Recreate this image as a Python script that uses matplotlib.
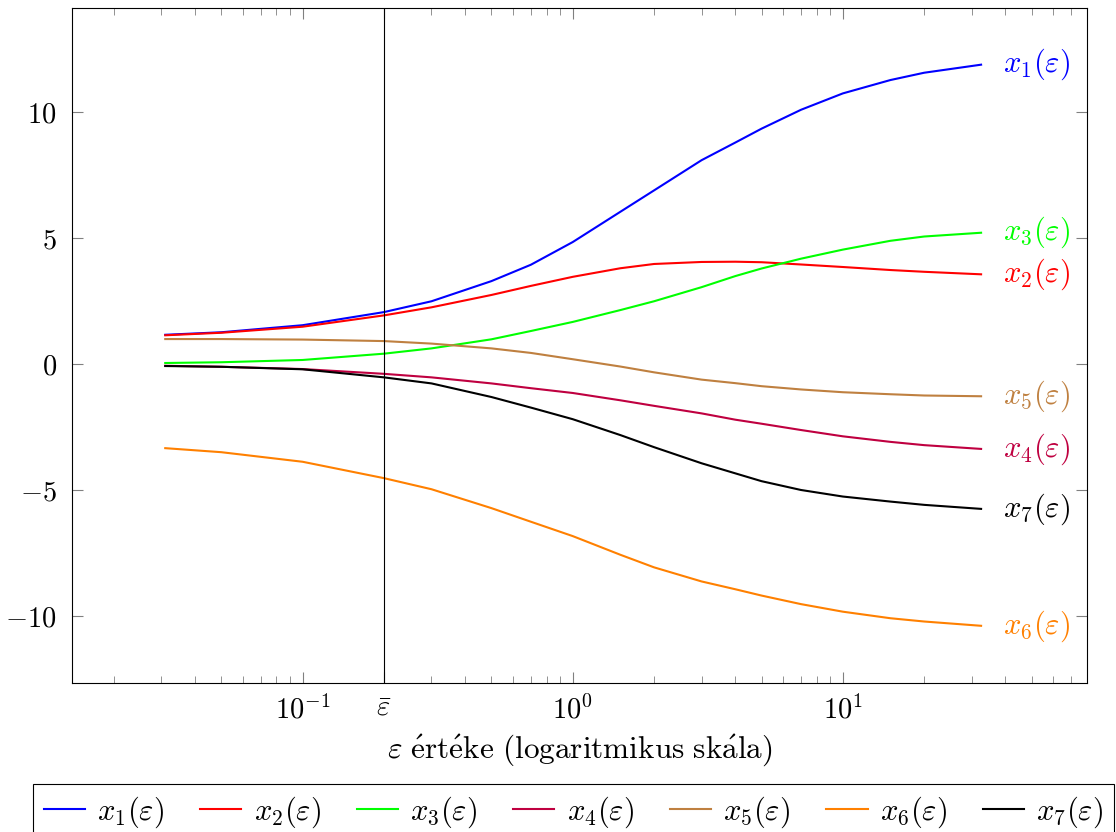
import matplotlib
matplotlib.use('Agg')
import matplotlib.pyplot as plt
from matplotlib.ticker import FuncFormatter, LogLocator, NullFormatter

plt.rcParams['mathtext.fontset'] = 'cm'
plt.rcParams['font.family'] = ['cmr10', 'DejaVu Serif']
plt.rcParams['axes.formatter.use_mathtext'] = True

# epsilon values (log scale) and the seven curves
eps = [0.031, 0.05, 0.1, 0.2, 0.3, 0.5, 0.7, 1.0, 1.5, 2.0, 3.0, 4.0, 5.0, 7.0, 10.0, 15.0, 20.0, 32.5]
x1 = [1.17, 1.27, 1.55, 2.07, 2.50, 3.30, 3.95, 4.85, 6.05, 6.90, 8.10, 8.80, 9.35, 10.10, 10.75, 11.28, 11.57, 11.89]
x2 = [1.15, 1.25, 1.49, 1.94, 2.26, 2.75, 3.11, 3.47, 3.81, 3.98, 4.06, 4.07, 4.05, 3.96, 3.86, 3.74, 3.67, 3.57]
x3 = [0.05, 0.08, 0.17, 0.42, 0.63, 0.99, 1.32, 1.68, 2.15, 2.50, 3.06, 3.50, 3.80, 4.19, 4.55, 4.90, 5.07, 5.22]
x4 = [-0.06, -0.10, -0.19, -0.38, -0.52, -0.76, -0.95, -1.14, -1.43, -1.65, -1.95, -2.20, -2.36, -2.61, -2.86, -3.08, -3.21, -3.36]
x5 = [1.00, 1.00, 0.98, 0.92, 0.82, 0.63, 0.45, 0.20, -0.09, -0.32, -0.61, -0.75, -0.87, -1.00, -1.11, -1.19, -1.24, -1.27]
x6 = [-3.33, -3.49, -3.87, -4.52, -4.96, -5.71, -6.25, -6.82, -7.56, -8.06, -8.62, -8.93, -9.18, -9.52, -9.82, -10.08, -10.21, -10.38]
x7 = [-0.07, -0.10, -0.20, -0.52, -0.76, -1.30, -1.72, -2.18, -2.81, -3.29, -3.93, -4.33, -4.64, -4.99, -5.25, -5.45, -5.58, -5.74]

series = [x1, x2, x3, x4, x5, x6, x7]
names = [r'$x_%d(\varepsilon)$' % (i + 1) for i in range(7)]
colors = ['#0000FF', '#FF0000', '#00FF00', '#BF0040', '#BF8040', '#FF8000', '#000000']
eps_bar = 0.2

fig = plt.figure(figsize=(11.16, 8.32), dpi=100)
ax = fig.add_axes([0.0645, 0.1791, 0.9093, 0.8113])

for ys, nm, c in zip(series, names, colors):
    ax.plot(eps, ys, color=c, lw=1.5, label=nm)
    ax.annotate(nm, xy=(eps[-1], ys[-1]), xytext=(16, 0), textcoords='offset points',
                color=c, fontsize=22, ha='left', va='center')

ax.axvline(eps_bar, color='black', lw=0.8)

ax.set_xscale('log')
ax.set_xlim(0.014, 80)
ax.set_ylim(-12.65, 14.14)

ax.set_xticks([0.1, 1, 10, eps_bar])
ax.set_xticklabels([r'$10^{-1}$', r'$10^{0}$', r'$10^{1}$', r'$\bar{\varepsilon}$'])
ax.xaxis.set_minor_locator(LogLocator(base=10, subs=range(2, 10), numticks=20))
ax.xaxis.set_minor_formatter(NullFormatter())
ax.set_yticks([-10, -5, 0, 5, 10])
ax.yaxis.set_major_formatter(FuncFormatter(lambda v, p: r'$%g$' % v))

ax.tick_params(which='both', direction='in', top=True, right=True, color='0.5', labelsize=20.5)
ax.tick_params(which='major', length=8, width=0.8, pad=9)
ax.tick_params(axis='y', which='major', pad=11)
ax.tick_params(which='minor', length=5, width=0.6)
for s in ax.spines.values():
    s.set_linewidth(0.8)

ax.set_xlabel(r'$\varepsilon\ \mathrm{\acute{e}rt\acute{e}ke\ (logaritmikus\ sk\acute{a}la)}$',
              fontsize=22.5, labelpad=6)

leg = fig.legend(loc='upper left', ncol=7, fontsize=22, mode='expand',
                 bbox_to_anchor=(33 / 1116, 0.0, 1081 / 1116, 48 / 832),
                 frameon=True, fancybox=False, framealpha=1, edgecolor='black',
                 handlelength=1.35, handletextpad=0.4, columnspacing=0.8, borderpad=0.35,
                 borderaxespad=0.0)
leg.get_frame().set_linewidth(0.8)

fig.savefig('out.png', dpi=100)
